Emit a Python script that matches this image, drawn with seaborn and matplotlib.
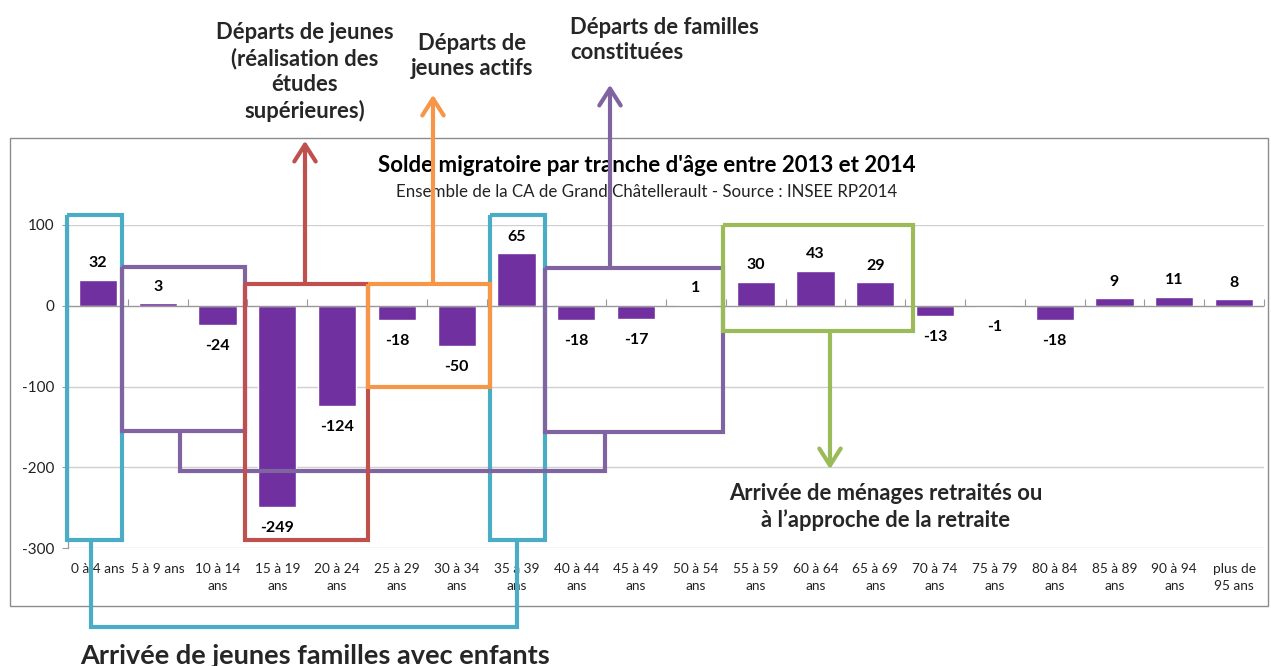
import numpy as np
import pandas as pd
import seaborn as sns
import matplotlib
matplotlib.use("Agg")
import matplotlib.pyplot as plt
from matplotlib.lines import Line2D
from matplotlib.patches import FancyArrowPatch, Rectangle

# ---- data ----
categories = ["0 à 4 ans", "5 à 9 ans", "10 à 14\nans", "15 à 19\nans", "20 à 24\nans",
              "25 à 29\nans", "30 à 34\nans", "35 à 39\nans", "40 à 44\nans", "45 à 49\nans",
              "50 à 54\nans", "55 à 59\nans", "60 à 64\nans", "65 à 69\nans", "70 à 74\nans",
              "75 à 79\nans", "80 à 84\nans", "85 à 89\nans", "90 à 94\nans", "plus de\n95 ans"]
values = [32, 3, -24, -249, -124, -18, -50, 65, -18, -17, 1, 30, 43, 29, -13, -1, -18, 9, 11, 8]
yticks = [100, 0, -100, -200, -300]

title = "Solde migratoire par tranche d'âge entre 2013 et 2014"
subtitle = "Ensemble de la CA de Grand Châtellerault - Source : INSEE RP2014"

W, H = 1271, 666
sns.set_theme(style="white")
plt.rcParams['font.family'] = ['Lato', 'DejaVu Sans']

fig = plt.figure(figsize=(W / 100, H / 100), dpi=100)
ax = fig.add_axes([68 / W, 1 - 548 / H, (1264 - 68) / W, (548 - 225) / H])

df = pd.DataFrame({"cat": categories, "val": values})
sns.barplot(data=df, x="cat", y="val", color="#7030A0", saturation=1, width=0.64, ax=ax)

ax.set_xlim(-0.5, len(categories) - 0.5)
ax.set_ylim(-300, 100)
ax.set_yticks(yticks)
ax.set_yticklabels([str(v) for v in yticks], fontsize=11, color="#222222")
ax.set_xlabel("")
ax.set_ylabel("")
ax.tick_params(axis="x", length=0, pad=11, labelsize=9.8, labelcolor="#222222")
for lab in ax.get_xticklabels():
    lab.set_linespacing(1.45)
ax.tick_params(axis="y", left=True, length=4, width=0.8, color="#999999", pad=6)
ax.grid(axis="y", color="#d0d0d0", linewidth=1)
ax.set_axisbelow(True)
for s in ["top", "right", "bottom"]:
    ax.spines[s].set_visible(False)
ax.spines["left"].set_color("#999999")
ax.spines["left"].set_linewidth(0.9)

# zero axis line with category tick marks
ax.axhline(0, color="#999999", linewidth=0.9, zorder=1)
sec = ax.secondary_xaxis(0.75)
sec.set_xticks(np.arange(-0.5, len(categories), 1.0))
sec.set_xticklabels([])
sec.tick_params(axis="x", direction="out", length=5, width=0.8, color="#999999")
sec.spines["bottom"].set_visible(False)
sec.spines["top"].set_visible(False)

# value labels
for i, v in enumerate(values):
    off = 12 if v >= 0 else -15
    ax.annotate(str(v), (i, v), xytext=(0, off), textcoords="offset points",
                ha="center", va="center", fontsize=11.5, fontweight="bold", color="black")

def P(x, y):
    return (x / W, 1 - y / H)

# outer chart frame
fig.add_artist(Rectangle(P(10, 606), (1268 - 10) / W, (606 - 138) / H, transform=fig.transFigure,
                         fill=False, edgecolor="#8c8c8c", linewidth=1, zorder=0))

fig.text(*P(647, 165), title, ha="center", va="center", fontsize=16, fontweight="bold", color="black")
fig.text(*P(647, 192), subtitle, ha="center", va="center", fontsize=12.2, color="#222222")

LW = 3.0

def poly(pts, color):
    xs = [p[0] / W for p in pts]
    ys = [1 - p[1] / H for p in pts]
    fig.add_artist(Line2D(xs, ys, transform=fig.transFigure, color=color, linewidth=LW,
                          solid_joinstyle="miter", solid_capstyle="butt", zorder=5))

def box(x0, y0, x1, y1, color):
    poly([(x0, y0), (x1, y0), (x1, y1), (x0, y1), (x0, y0)], color)

def arrow(x, y0, y1, color):
    fig.add_artist(FancyArrowPatch(P(x, y0), P(x, y1), transform=fig.transFigure,
                                   arrowstyle="->,head_length=0.55,head_width=0.35",
                                   mutation_scale=22, color=color, linewidth=LW, zorder=5))

cyan = "#4BACC6"
purple = "#8064A2"
red = "#C0504D"
orange = "#F79646"
green = "#9BBB59"

# cyan: young families arriving
box(67, 215, 122, 540, cyan)
box(490, 215, 545, 540, cyan)
poly([(91, 540), (91, 627), (517, 627), (517, 540)], cyan)

# purple: families leaving
box(122, 267, 245, 431, purple)
box(545, 268, 723, 432, purple)
poly([(180, 431), (180, 471), (605, 471), (605, 432)], purple)
arrow(610, 268, 82, purple)

# red: students
box(245, 284, 368, 540, red)
arrow(305, 284, 138, red)

# orange: young workers
box(368, 284, 490, 387, orange)
arrow(433, 284, 92, orange)

# green: retirees
box(723, 225, 913, 331, green)
arrow(830, 331, 472, green)

# annotation texts
fig.text(*P(305, 72), "Départs de jeunes\n(réalisation des\nétudes\nsupérieures)", ha="center",
         va="center", fontsize=15.8, fontweight="bold", linespacing=1.27)
fig.text(*P(472, 56), "Départs de\njeunes actifs", ha="center", va="center",
         fontsize=15.8, fontweight="bold", linespacing=1.27)
fig.text(*P(570, 40), "Départs de familles\nconstituées", ha="left", va="center",
         fontsize=15.8, fontweight="bold", linespacing=1.27)
fig.text(*P(886, 507), "Arrivée de ménages retraités ou\nà l’approche de la retraite", ha="center",
         va="center", fontsize=15.8, fontweight="bold", linespacing=1.27)
fig.text(*P(315, 656), "Arrivée de jeunes familles avec enfants", ha="center", va="center",
         fontsize=19.5, fontweight="bold")

fig.savefig("out.png", dpi=100)
